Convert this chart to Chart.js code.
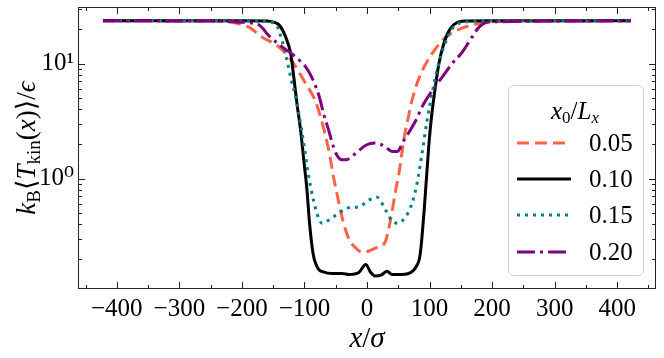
<!DOCTYPE html>
<html>
<head>
<meta charset="utf-8">
<style>
  html, body { margin: 0; padding: 0; background: #fff; }
  #wrap { width: 664px; height: 358px; }
</style>
</head>
<body>
<div id="wrap"><canvas id="myChart" width="664" height="358"></canvas></div>

<script src="https://cdn.jsdelivr.net/npm/chart.js/dist/chart.umd.min.js"></script>
<script>
// data
const xTicks = [-400, -300, -200, -100, 0, 100, 200, 300, 400];
const yTicks = [1, 10];
const seriesLabels = ['0.05', '0.10', '0.15', '0.20'];

const x005 = [-422, -240, -221, -189, -168, -141, -120, -98, -83, -74, -61, -53, -45, -38, -29, -18, -8, 3, 14, 24, 30, 38, 46, 51, 59, 66, 72, 80, 88, 104, 126, 152, 184, 211, 422];
const y005 = [23.5, 23.4, 23.0, 20.7, 17.0, 14.0, 10.5, 6.7, 4.8, 3.4, 1.76, 1.0, 0.62, 0.42, 0.3, 0.25, 0.23, 0.235, 0.25, 0.26, 0.29, 0.45, 0.8, 1.1, 2.2, 3.4, 4.8, 6.7, 8.6, 12.2, 17.0, 20.3, 22.5, 23.2, 23.5];

const x010 = [-422, -200, -160, -148, -140, -130, -122, -117, -112, -106, -101, -96, -92, -86, -78, -70, -56, -40, -29, -13, -2, 6, 13, 24, 32, 40, 56, 70, 78, 85, 91, 95, 99, 103, 107, 115, 123, 133, 147, 160, 200, 422];
const y010 = [23.5, 23.5, 23.4, 22.8, 21.5, 17.0, 12.2, 7.6, 4.5, 2.6, 1.44, 0.8, 0.42, 0.22, 0.165, 0.155, 0.15, 0.15, 0.147, 0.153, 0.18, 0.153, 0.143, 0.147, 0.157, 0.147, 0.147, 0.153, 0.17, 0.22, 0.5, 1.0, 2.0, 3.4, 5.1, 10.0, 15.0, 20.0, 23.0, 23.4, 23.5, 23.5];

const x015 = [-422, -200, -165, -146, -136, -128, -122, -112, -101, -95, -90, -80, -72, -60, -50, -29, -13, 3, 16, 30, 40, 48, 61, 72, 80, 88, 96, 104, 112, 123, 136, 158, 200, 422];
const y015 = [23.5, 23.5, 23.3, 22.0, 16.0, 10.7, 7.6, 4.5, 2.0, 1.2, 0.84, 0.5, 0.41, 0.44, 0.48, 0.56, 0.57, 0.65, 0.69, 0.53, 0.43, 0.41, 0.46, 0.61, 0.91, 1.65, 3.2, 5.5, 8.8, 14.0, 20.0, 23.0, 23.5, 23.5];

const x020 = [-422, -230, -210, -173, -157, -136, -114, -93, -77, -69, -61, -55, -48, -40, -34, -18, -2, 13, 30, 40, 48, 59, 78, 88, 104, 120, 136, 152, 168, 179, 195, 422];
const y020 = [23.5, 23.4, 23.0, 21.7, 17.5, 14.0, 11.4, 8.5, 5.3, 3.6, 2.6, 2.0, 1.6, 1.46, 1.46, 1.66, 1.95, 2.04, 1.88, 1.72, 1.72, 2.15, 3.2, 4.2, 5.8, 7.6, 10.0, 12.5, 17.0, 20.7, 23.0, 23.5];

const SERIF = '"Liberation Serif", "DejaVu Serif", serif';

const styles = [
  { color: '#ff6347', dash: [12, 6], order: 3 },
  { color: '#000000', dash: [], order: 2 },
  { color: '#008080', dash: [3, 5], order: 1 },
  { color: '#800080', dash: [18, 5, 3, 5], order: 0 }
];
const xs = [x005, x010, x015, x020];
const ys = [y005, y010, y015, y020];

const datasets = seriesLabels.map((lab, k) => ({
  label: lab,
  data: xs[k].map((v, i) => ({ x: v, y: ys[k][i] })),
  borderColor: styles[k].color,
  borderDash: styles[k].dash,
  borderWidth: 3,
  pointRadius: 0,
  fill: false,
  cubicInterpolationMode: 'monotone',
  order: styles[k].order
}));

// text made of pieces (subscripts etc), centred on cx
function drawRich(ctx, segs, cx, by) {
  let w = 0;
  segs.forEach(s => { ctx.font = s.f; s.w = ctx.measureText(s.t).width; w += s.w; });
  let x = cx - w / 2;
  segs.forEach(s => { ctx.font = s.f; ctx.fillText(s.t, x, by + (s.dy || 0)); x += s.w; });
}

const frameTicks = {
  id: 'frameTicks',
  afterDraw(chart) {
    const ctx = chart.ctx;
    const a = chart.chartArea;
    const sx = chart.scales.x, sy = chart.scales.y;
    ctx.save();
    ctx.strokeStyle = '#222';
    ctx.lineWidth = 1;
    ctx.strokeRect(a.left + 0.5, a.top + 0.5, a.right - a.left - 1, a.bottom - a.top - 1);

    ctx.beginPath();
    for (let v = -450; v <= 450; v += 50) {
      const p = Math.round(sx.getPixelForValue(v)) + 0.5;
      const len = (v % 100 === 0) ? 7 : 4;
      ctx.moveTo(p, a.bottom); ctx.lineTo(p, a.bottom - len);
      ctx.moveTo(p, a.top); ctx.lineTo(p, a.top + len);
    }
    const minor = [0.2, 0.3, 0.4, 0.5, 0.6, 0.7, 0.8, 0.9, 2, 3, 4, 5, 6, 7, 8, 9, 20, 30];
    minor.concat(yTicks).forEach(v => {
      const p = Math.round(sy.getPixelForValue(v)) + 0.5;
      const len = yTicks.includes(v) ? 7 : 4;
      ctx.moveTo(a.left, p); ctx.lineTo(a.left + len, p);
      ctx.moveTo(a.right, p); ctx.lineTo(a.right - len, p);
    });
    ctx.stroke();

    // axis titles
    ctx.fillStyle = '#000';
    ctx.textAlign = 'left';
    ctx.textBaseline = 'alphabetic';
    drawRich(ctx, [
      { t: 'x', f: 'italic 29px ' + SERIF },
      { t: '/', f: '29px ' + SERIF },
      { t: 'σ', f: 'italic 29px ' + SERIF }
    ], (a.left + a.right) / 2, 347);

    ctx.save();
    ctx.translate(35, (a.top + a.bottom) / 2);
    ctx.rotate(-Math.PI / 2);
    drawRich(ctx, [
      { t: 'k', f: 'italic 27px ' + SERIF },
      { t: 'B', f: '19px ' + SERIF, dy: 5 },
      { t: '⟨', f: '27px ' + SERIF },
      { t: 'T', f: 'italic 27px ' + SERIF },
      { t: 'kin', f: '19px ' + SERIF, dy: 5 },
      { t: '(', f: '27px ' + SERIF },
      { t: 'x', f: 'italic 27px ' + SERIF },
      { t: ')', f: '27px ' + SERIF },
      { t: '⟩', f: '27px ' + SERIF },
      { t: '/', f: '27px ' + SERIF },
      { t: 'ϵ', f: 'italic 27px ' + SERIF }
    ], 0, 0);
    ctx.restore();

    // legend
    const L = { l: 508, t: 85, r: 643, b: 275 };
    ctx.beginPath();
    ctx.roundRect(L.l + 0.5, L.t + 0.5, L.r - L.l, L.b - L.t, 5);
    ctx.fillStyle = 'rgba(255,255,255,0.85)';
    ctx.fill();
    ctx.strokeStyle = '#d0d0d0';
    ctx.stroke();

    ctx.fillStyle = '#000';
    drawRich(ctx, [
      { t: 'x', f: 'italic 25px ' + SERIF },
      { t: '0', f: '17px ' + SERIF, dy: 4 },
      { t: '/', f: '25px ' + SERIF },
      { t: 'L', f: 'italic 25px ' + SERIF },
      { t: 'x', f: 'italic 17px ' + SERIF, dy: 4 }
    ], 575, 119);

    const rows = [143, 179, 215, 252];
    seriesLabels.forEach((lab, k) => {
      const y = rows[k];
      ctx.beginPath();
      ctx.setLineDash(styles[k].dash);
      ctx.strokeStyle = styles[k].color;
      ctx.lineWidth = 3;
      ctx.moveTo(517, y); ctx.lineTo(571, y);
      ctx.stroke();
      ctx.setLineDash([]);
      ctx.font = '25px ' + SERIF;
      ctx.fillStyle = '#000';
      ctx.textBaseline = 'middle';
      ctx.fillText(lab, 589, y + 1);
      ctx.textBaseline = 'alphabetic';
    });
    ctx.restore();
  }
};

const config = {
  type: 'line',
  data: { datasets },
  options: {
    responsive: false,
    animation: false,
    layout: { padding: { top: 7, right: 8, left: 0, bottom: 0 } },
    plugins: { legend: { display: false }, tooltip: { enabled: false } },
    scales: {
      x: {
        type: 'linear',
        min: -462,
        max: 462,
        grid: { display: false, drawTicks: false },
        border: { display: false },
        afterBuildTicks: s => { s.ticks = xTicks.map(v => ({ value: v })); },
        afterFit: s => { s.height = 69; s.paddingLeft = 0; s.paddingRight = 0; },
        ticks: {
          padding: 5,
          maxRotation: 0,
          color: '#000',
          font: { family: SERIF, size: 25 },
          callback: v => (v < 0 ? '\u2212' + Math.abs(v) : String(v))
        }
      },
      y: {
        type: 'logarithmic',
        min: 0.11,
        max: 31,
        grid: { display: false, drawTicks: false },
        border: { display: false },
        afterBuildTicks: s => { s.ticks = yTicks.map(v => ({ value: v })); },
        afterFit: s => { s.width = 78; s.paddingTop = 0; s.paddingBottom = 0; },
        ticks: {
          padding: 4,
          color: '#000',
          font: { family: SERIF, size: 25 },
          callback: v => (v === 1 ? '10⁰' : v === 10 ? '10¹' : '')
        }
      }
    }
  },
  plugins: [frameTicks]
};

const myChart = new Chart(document.getElementById('myChart'), config);
</script>
</body>
</html>
